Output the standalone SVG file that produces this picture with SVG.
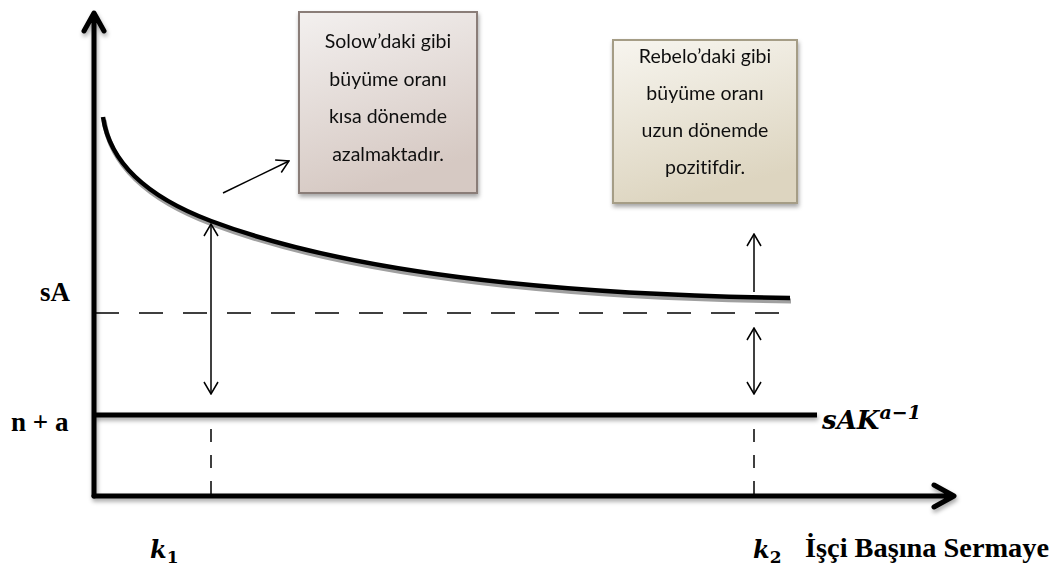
<svg xmlns="http://www.w3.org/2000/svg" width="1059" height="570" viewBox="0 0 1059 570">
  <defs>
    <linearGradient id="g1" x1="0" y1="0" x2="0.3" y2="1">
      <stop offset="0" stop-color="#f3f0ef"/>
      <stop offset="1" stop-color="#d6c9c3"/>
    </linearGradient>
    <linearGradient id="g2" x1="0" y1="0" x2="0.3" y2="1">
      <stop offset="0" stop-color="#f7f5ef"/>
      <stop offset="1" stop-color="#ddd5c0"/>
    </linearGradient>
    <filter id="sh" filterUnits="userSpaceOnUse" x="0" y="0" width="1059" height="570">
      <feDropShadow dx="1" dy="3" stdDeviation="2" flood-color="#000" flood-opacity="0.35"/>
    </filter>
    <marker id="ah" viewBox="0 0 14 16" refX="13" refY="8" markerWidth="14" markerHeight="16" markerUnits="userSpaceOnUse" orient="auto-start-reverse">
      <path d="M1,1 L13,8 L1,15" fill="none" stroke="#000" stroke-width="1.5"/>
    </marker>
  </defs>
  <style>
    .axis{fill:none;stroke:#000;stroke-width:5;stroke-linecap:round;stroke-linejoin:round}
    .thick{fill:none;stroke:#000;stroke-width:5}
    .thin{fill:none;stroke:#000;stroke-width:1.5}
    .dash{fill:none;stroke:#000;stroke-width:1.5;stroke-dasharray:24 20}
    .vdash{fill:none;stroke:#000;stroke-width:1.5;stroke-dasharray:13 13}
    .box1{fill:url(#g1);stroke:#8a7d78;stroke-width:2}
    .box2{fill:url(#g2);stroke:#a59d86;stroke-width:2}
    .bt{font-family:Lato,"Noto Sans",sans-serif;font-size:19.5px;fill:#111;text-anchor:middle;font-variant-ligatures:none}
    .lab{font-family:"Liberation Serif",serif;font-weight:bold;font-size:27px;fill:#000}
    .math{font-family:"DejaVu Serif","Liberation Serif",serif;font-style:italic;font-weight:bold;fill:#000}
    .sub{font-style:normal}
  </style>

  <g id="axes" filter="url(#sh)">
    <path class="axis" d="M94,496 V14 M84,31 L94,13 L104,31"/>
    <path class="axis" d="M94,496 H953 M934,485 L954,496 L934,507"/>
  </g>

  <g id="labels">
    <text class="lab" x="40" y="301">sA</text>
    <text class="lab" x="11" y="431">n + a</text>
    <text class="math" x="150" y="558" font-size="24">k<tspan class="sub" font-size="17" dy="5">1</tspan></text>
    <text class="math" x="753" y="558" font-size="24">k<tspan class="sub" font-size="17" dy="5">2</tspan></text>
    <text class="lab" x="805" y="557" font-size="29" textLength="244" lengthAdjust="spacingAndGlyphs">İşçi Başına Sermaye</text>
    <text class="math" x="822" y="429" font-size="26">sAK<tspan font-size="19" dy="-10">a−1</tspan></text>
  </g>

  <g id="curves">
    <path d="M104,120 C111,168 151,201 212,224 C321,265 501,297 791,301" fill="none" stroke="#a0a0a0" stroke-width="5"/>
    <path d="M103,117 C110,165 150,198 211,221 C320,262 500,294 790,298" fill="none" stroke="#000" stroke-width="4.5"/>
    <g filter="url(#sh)">
      <path class="thick" d="M94,415 H817"/>
    </g>
  </g>

  <g id="connectors">
    <path class="dash" d="M95,313 H787"/>
    <path class="vdash" d="M211,429 V495"/>
    <path class="vdash" d="M754,429 V495"/>
    <path class="thin" d="M211,224 V394" marker-start="url(#ah)" marker-end="url(#ah)"/>
    <path class="thin" d="M754,292 V234" marker-end="url(#ah)"/>
    <path class="thin" d="M754,328 V394" marker-start="url(#ah)" marker-end="url(#ah)"/>
    <path class="thin" d="M223,193 L289,161" marker-end="url(#ah)"/>
  </g>

  <g id="box1" filter="url(#sh)">
    <rect class="box1" x="299" y="12" width="178" height="181"/>
    <text class="bt" x="388" y="48">Solow’daki gibi</text>
    <text class="bt" x="388" y="86">büyüme oranı</text>
    <text class="bt" x="388" y="123">kısa dönemde</text>
    <text class="bt" x="388" y="161">azalmaktadır.</text>
  </g>

  <g id="box2" filter="url(#sh)">
    <rect class="box2" x="613" y="40" width="184" height="163"/>
    <text class="bt" x="705" y="63">Rebelo’daki gibi</text>
    <text class="bt" x="705" y="100">büyüme oranı</text>
    <text class="bt" x="705" y="137">uzun dönemde</text>
    <text class="bt" x="705" y="174">pozitifdir.</text>
  </g>
</svg>
